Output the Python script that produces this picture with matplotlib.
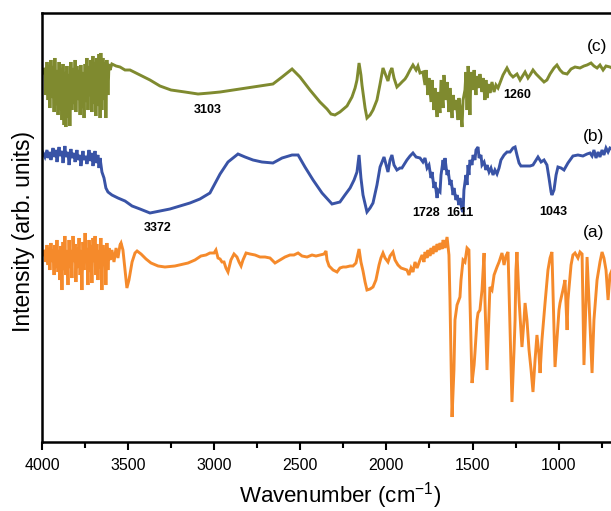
import matplotlib
matplotlib.use("Agg")
import matplotlib.pyplot as plt
from matplotlib.ticker import MultipleLocator

plt.rcParams['font.family'] = ['Liberation Sans', 'DejaVu Sans']
plt.rcParams['mathtext.default'] = 'regular'

# ---- data: wavenumber (cm-1) and intensity (arb. units) ----
wn_c = [4000, 3994, 3983, 3977, 3971, 3965, 3959, 3954, 3948, 3942, 3936, 3930, 3925, 3919, 3913, 3907,
        3901, 3896, 3890, 3884, 3878, 3872, 3867, 3861, 3855, 3849, 3843, 3838, 3832, 3826, 3820, 3814,
        3808, 3803, 3797, 3791, 3785, 3779, 3774, 3768, 3762, 3756, 3750, 3745, 3739, 3733, 3727, 3721,
        3716, 3710, 3704, 3698, 3692, 3687, 3681, 3675, 3669, 3663, 3658, 3652, 3646, 3640, 3634, 3629,
        3623, 3617, 3611, 3605, 3594, 3570, 3547, 3518, 3489, 3443, 3373, 3315, 3251, 3170, 3094, 3025,
        2966, 2850, 2734, 2659, 2606, 2548, 2502, 2444, 2386, 2345, 2322, 2299, 2270, 2229, 2200, 2182,
        2171, 2159, 2148, 2142, 2124, 2113, 2095, 2078, 2055, 2037, 2020, 2002, 1991, 1979, 1968, 1956,
        1939, 1921, 1910, 1892, 1881, 1863, 1846, 1828, 1817, 1805, 1788, 1776, 1770, 1759, 1753, 1741,
        1735, 1724, 1718, 1706, 1701, 1689, 1683, 1671, 1666, 1654, 1648, 1637, 1631, 1619, 1613, 1602,
        1596, 1584, 1579, 1567, 1561, 1555, 1544, 1538, 1532, 1526, 1521, 1515, 1509, 1497, 1491, 1480,
        1474, 1462, 1457, 1445, 1439, 1428, 1422, 1416, 1404, 1399, 1387, 1375, 1364, 1352, 1341, 1323,
        1300, 1282, 1265, 1242, 1224, 1195, 1178, 1166, 1149, 1131, 1108, 1085, 1068, 1050, 1027, 1010,
        992, 975, 951, 928, 905, 876, 853, 835, 812, 795, 777, 760, 742, 725, 702, 690]
int_c = [372, 370, 374, 347, 380, 342, 377, 334, 382, 344, 376, 330, 384, 337, 372, 327,
         380, 332, 374, 322, 378, 317, 370, 315, 376, 324, 368, 316, 380, 332, 374, 338,
         382, 330, 376, 342, 372, 327, 377, 334, 370, 324, 378, 340, 384, 332, 376, 346,
         382, 330, 386, 338, 380, 326, 384, 336, 388, 324, 389, 332, 384, 342, 380, 324,
         382, 347, 378, 372, 378, 376, 375, 372, 372, 368, 362, 356, 352, 350, 348, 349,
         350, 353, 356, 358, 365, 373, 365, 352, 340, 333, 328, 327, 330, 336, 345, 354,
         362, 379, 367, 357, 334, 324, 327, 332, 342, 358, 374, 366, 361, 370, 374, 364,
         355, 358, 360, 363, 366, 372, 377, 372, 376, 369, 370, 357, 372, 347, 364, 340,
         362, 332, 354, 325, 350, 329, 362, 334, 367, 342, 360, 330, 354, 324, 347, 332,
         342, 322, 344, 327, 315, 342, 352, 370, 332, 376, 362, 327, 370, 352, 372, 347,
         366, 354, 368, 350, 364, 342, 362, 344, 358, 349, 360, 350, 357, 354, 359, 367,
         374, 368, 365, 368, 362, 370, 364, 367, 372, 368, 364, 360, 362, 368, 374, 377,
         372, 369, 368, 373, 375, 374, 376, 377, 379, 376, 374, 377, 372, 376, 375, 374]

wn_b = [4000, 3994, 3983, 3971, 3965, 3954, 3948, 3936, 3930, 3919, 3913, 3901, 3896, 3884, 3878, 3867,
        3861, 3849, 3843, 3832, 3826, 3814, 3808, 3797, 3791, 3779, 3774, 3762, 3756, 3745, 3739, 3727,
        3721, 3710, 3704, 3692, 3687, 3675, 3669, 3663, 3652, 3640, 3629, 3617, 3594, 3559, 3518, 3477,
        3431, 3373, 3315, 3257, 3199, 3141, 3083, 3025, 2966, 2920, 2862, 2821, 2775, 2723, 2659, 2606,
        2548, 2513, 2473, 2426, 2374, 2316, 2270, 2241, 2211, 2188, 2171, 2159, 2148, 2136, 2113, 2095,
        2078, 2055, 2037, 2014, 2002, 1991, 1979, 1968, 1956, 1939, 1921, 1910, 1892, 1881, 1863, 1846,
        1828, 1805, 1788, 1776, 1764, 1753, 1741, 1735, 1724, 1718, 1706, 1701, 1689, 1683, 1671, 1666,
        1660, 1648, 1642, 1631, 1625, 1613, 1608, 1596, 1590, 1579, 1573, 1561, 1555, 1550, 1538, 1532,
        1526, 1521, 1515, 1503, 1497, 1486, 1480, 1468, 1462, 1451, 1445, 1433, 1422, 1416, 1404, 1393,
        1381, 1370, 1358, 1346, 1335, 1317, 1300, 1282, 1265, 1253, 1242, 1230, 1219, 1195, 1166, 1149,
        1131, 1120, 1102, 1085, 1068, 1056, 1044, 1039, 1027, 1015, 1004, 986, 969, 946, 917, 888,
        859, 835, 818, 806, 795, 783, 771, 760, 748, 737, 725, 713, 702, 690]
int_b = [287, 289, 285, 292, 284, 290, 282, 294, 285, 292, 280, 295, 286, 291, 279, 296,
         285, 290, 277, 293, 284, 289, 280, 292, 282, 287, 276, 291, 282, 286, 278, 292,
         281, 289, 276, 291, 279, 287, 274, 284, 270, 264, 254, 250, 247, 244, 241, 236,
         233, 229, 231, 233, 236, 239, 243, 249, 268, 280, 288, 285, 282, 280, 279, 284,
         287, 287, 275, 262, 249, 238, 240, 247, 254, 262, 270, 287, 264, 247, 230, 234,
         239, 257, 275, 285, 277, 270, 282, 287, 277, 272, 274, 274, 279, 282, 286, 289,
         285, 284, 280, 284, 274, 277, 264, 270, 254, 260, 244, 252, 250, 267, 282, 272,
         284, 267, 272, 257, 262, 247, 254, 242, 247, 237, 244, 232, 230, 252, 267, 257,
         277, 267, 282, 277, 287, 282, 292, 295, 284, 287, 277, 280, 272, 277, 270, 274,
         267, 272, 268, 274, 282, 287, 290, 290, 294, 295, 287, 279, 276, 276, 276, 277,
         282, 285, 280, 282, 277, 264, 250, 247, 252, 267, 275, 274, 272, 279, 286, 287,
         286, 288, 289, 286, 292, 284, 290, 285, 292, 287, 294, 290, 294, 293]

wn_a = [4000, 3994, 3983, 3977, 3971, 3965, 3959, 3954, 3948, 3942, 3936, 3930, 3925, 3919, 3913, 3907,
        3901, 3896, 3890, 3884, 3878, 3872, 3867, 3861, 3855, 3849, 3843, 3838, 3832, 3826, 3820, 3814,
        3808, 3803, 3797, 3791, 3785, 3779, 3774, 3768, 3762, 3756, 3750, 3745, 3739, 3733, 3727, 3721,
        3716, 3710, 3704, 3698, 3692, 3687, 3681, 3675, 3669, 3663, 3658, 3652, 3646, 3640, 3634, 3629,
        3623, 3617, 3611, 3605, 3594, 3582, 3570, 3559, 3547, 3541, 3530, 3518, 3507, 3495, 3477, 3460,
        3448, 3425, 3396, 3367, 3326, 3286, 3228, 3152, 3112, 3077, 3048, 3025, 3001, 2990, 2978, 2966,
        2955, 2943, 2932, 2920, 2903, 2885, 2868, 2856, 2844, 2833, 2815, 2792, 2763, 2734, 2705, 2676,
        2659, 2647, 2618, 2589, 2560, 2537, 2513, 2490, 2461, 2432, 2409, 2386, 2362, 2351, 2345, 2333,
        2310, 2287, 2270, 2252, 2235, 2211, 2194, 2177, 2159, 2148, 2136, 2124, 2113, 2095, 2078, 2061,
        2043, 2032, 2020, 2008, 1991, 1979, 1962, 1950, 1933, 1915, 1898, 1881, 1869, 1857, 1846, 1834,
        1822, 1805, 1793, 1782, 1776, 1764, 1759, 1747, 1741, 1730, 1724, 1712, 1706, 1695, 1689, 1677,
        1671, 1660, 1648, 1637, 1631, 1619, 1608, 1602, 1590, 1579, 1573, 1567, 1555, 1544, 1532, 1521,
        1515, 1503, 1491, 1486, 1474, 1468, 1457, 1445, 1433, 1428, 1416, 1410, 1399, 1387, 1375, 1358,
        1346, 1329, 1317, 1306, 1294, 1282, 1271, 1259, 1253, 1248, 1242, 1230, 1219, 1213, 1201, 1195,
        1184, 1172, 1160, 1149, 1137, 1126, 1114, 1108, 1097, 1079, 1062, 1050, 1039, 1033, 1021, 1010,
        998, 992, 975, 963, 951, 946, 928, 917, 905, 888, 876, 864, 853, 841, 835, 824,
        806, 795, 777, 760, 748, 737, 725, 713, 702, 690]
int_a = [190, 188, 192, 180, 197, 177, 194, 172, 199, 180, 192, 167, 197, 174, 202, 170,
         192, 162, 196, 152, 200, 172, 206, 167, 192, 157, 202, 174, 192, 164, 206, 180,
         198, 160, 194, 174, 204, 167, 192, 152, 200, 172, 209, 180, 194, 157, 202, 170,
         197, 159, 204, 180, 206, 167, 198, 162, 192, 174, 204, 152, 197, 180, 192, 157,
         199, 172, 194, 182, 192, 180, 194, 184, 197, 199, 192, 172, 154, 162, 180, 189,
         191, 188, 183, 179, 176, 175, 176, 179, 182, 186, 187, 189, 189, 192, 184, 183,
         180, 180, 174, 170, 182, 188, 185, 180, 176, 182, 189, 188, 187, 185, 185, 184,
         181, 179, 182, 185, 187, 187, 189, 186, 185, 187, 186, 187, 188, 191, 182, 176,
         172, 170, 174, 175, 175, 176, 176, 179, 193, 180, 171, 160, 152, 153, 155, 162,
         177, 184, 189, 184, 180, 186, 190, 182, 177, 174, 173, 172, 167, 174, 170, 180,
         174, 182, 187, 180, 190, 184, 192, 186, 194, 188, 196, 190, 198, 192, 199, 193,
         202, 194, 205, 187, 142, 25, 72, 122, 137, 142, 145, 162, 182, 180, 194, 192,
         142, 59, 77, 89, 122, 129, 132, 152, 189, 142, 72, 102, 155, 152, 167, 175,
         180, 189, 177, 186, 190, 112, 40, 92, 122, 172, 190, 142, 112, 95, 122, 139,
         122, 92, 72, 50, 82, 107, 87, 69, 102, 139, 172, 184, 190, 152, 75, 102,
         132, 139, 152, 162, 112, 142, 177, 187, 189, 184, 190, 188, 77, 142, 185, 142,
         69, 122, 162, 180, 190, 184, 172, 142, 167, 172]

series_labels = ['(c)', '(b)', '(a)']
peak_labels = ['3103', '1260', '3372', '1728', '1611', '1043']
x_ticks = [4000, 3500, 3000, 2500, 2000, 1500, 1000]

# ---- figure ----
fig = plt.figure(figsize=(6.11, 5.11), dpi=100)
ax = fig.add_axes([42/611, 69/511, 569/611, 429/511])

ax.plot(wn_c, int_c, color='#7f8a2f', lw=2.1, solid_joinstyle='miter')
ax.plot(wn_b, int_b, color='#3953a6', lw=2.1, solid_joinstyle='miter')
ax.plot(wn_a, int_a, color='#f58a2b', lw=2.1, solid_joinstyle='miter')

ax.set_xlim(4000, 696)
ax.set_ylim(0, 429)

ax.set_xticks(x_ticks)
ax.set_xticklabels([str(t) for t in x_ticks])
ax.xaxis.set_minor_locator(MultipleLocator(250))
ax.set_yticks([])
ax.tick_params(axis='x', which='major', direction='out', length=6, width=1.5,
               labelsize=11.5, pad=5.5)
ax.tick_params(axis='x', which='minor', direction='out', length=4, width=1.5)

for s in ['left', 'bottom', 'top']:
    ax.spines[s].set_linewidth(1.8)
ax.spines['right'].set_visible(False)

ax.set_xlabel('Wavenumber (cm$^{-1}$)', fontsize=16)
ax.xaxis.set_label_coords(0.524, -0.088)
ax.set_ylabel('Intensity (arb. units)', fontsize=16.5)
ax.yaxis.set_label_coords(-0.012, 0.49)

# series labels
ax.text(777, 395, series_labels[0], fontsize=12.5, ha='center', va='center')
ax.text(800, 305, series_labels[1], fontsize=12.5, ha='center', va='center')
ax.text(800, 209, series_labels[2], fontsize=12.5, ha='center', va='center')

# peak annotations
ax.text(3036, 332, peak_labels[0], fontsize=9, fontweight='bold', ha='center', va='center')
ax.text(1242, 347, peak_labels[1], fontsize=9, fontweight='bold', ha='center', va='center')
ax.text(3326, 214, peak_labels[2], fontsize=9, fontweight='bold', ha='center', va='center')
ax.text(1772, 229, peak_labels[3], fontsize=9, fontweight='bold', ha='center', va='center')
ax.text(1571, 229, peak_labels[4], fontsize=9, fontweight='bold', ha='center', va='center')
ax.text(1033, 230, peak_labels[5], fontsize=9, fontweight='bold', ha='center', va='center')

fig.savefig('out.png', dpi=100)
